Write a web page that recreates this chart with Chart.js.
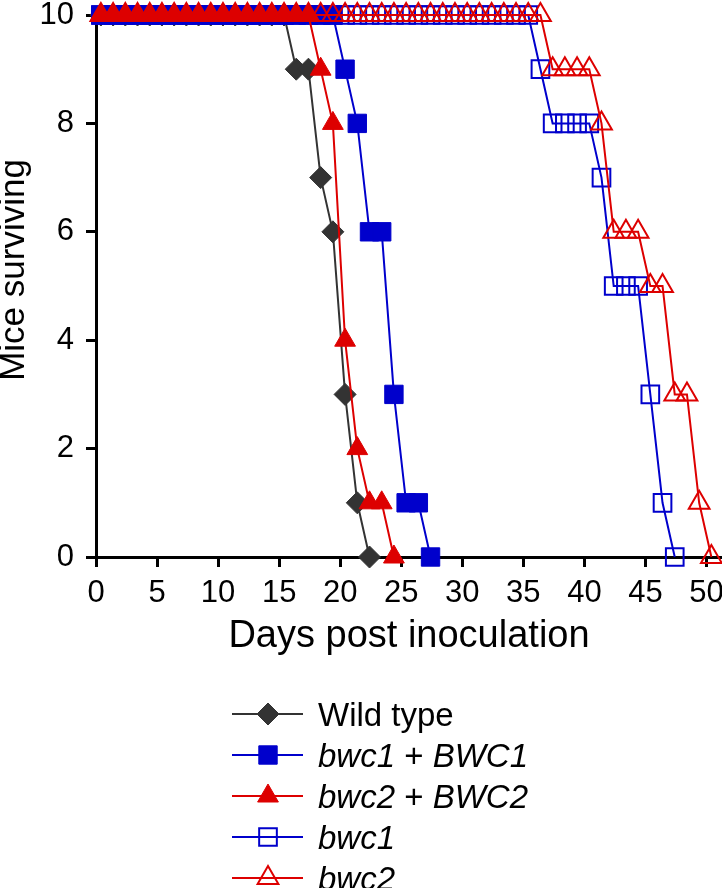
<!DOCTYPE html>
<html>
<head>
<meta charset="utf-8">
<script src="https://cdn.jsdelivr.net/npm/chart.js@4.4.1/dist/chart.umd.min.js"></script>
<style>
  html, body { margin: 0; padding: 0; background: #fff; }
  #wrap { width: 722px; height: 888px; }
</style>
</head>
<body>
<div id="wrap"><canvas id="survival" width="722" height="888"></canvas></div>
<script>
// day grid shared by every group (index i -> days[i])
const days = [0.4, 1.4, 2.4, 3.4, 4.4, 5.4, 6.4, 7.4, 8.4, 9.4,
  10.4, 11.4, 12.4, 13.4, 14.4, 15.4, 16.4, 17.4, 18.4, 19.4,
  20.4, 21.4, 22.4, 23.4, 24.4, 25.4, 26.4, 27.4, 28.4, 29.4,
  30.4, 31.4, 32.4, 33.4, 34.4, 35.4, 36.4, 37.4, 38.4, 39.4,
  40.4, 41.4, 42.4, 43.4, 44.4, 45.4, 46.4, 47.4, 48.4, 49.4, 50.4];

// mice surviving per group
const wildType = [10, 10, 10, 10, 10, 10, 10, 10, 10, 10, 10, 10, 10, 10, 10, 10,
  9, 9, 7, 6, 3, 1, 0];
const bwc1Comp = [10, 10, 10, 10, 10, 10, 10, 10, 10, 10, 10, 10, 10, 10, 10, 10, 10, 10, 10, 10,
  9, 8, 6, 6, 3, 1, 1, 0];
const bwc2Comp = [10, 10, 10, 10, 10, 10, 10, 10, 10, 10, 10, 10, 10, 10, 10, 10, 10, 10,
  9, 8, 4, 2, 1, 1, 0];
const bwc1 = [10, 10, 10, 10, 10, 10, 10, 10, 10, 10, 10, 10, 10, 10, 10, 10, 10, 10,
  10, 10, 10, 10, 10, 10, 10, 10, 10, 10, 10, 10, 10, 10, 10, 10, 10, 10,
  9, 8, 8, 8, 8, 7, 5, 5, 5, 3, 1, 0];
const bwc2 = [10, 10, 10, 10, 10, 10, 10, 10, 10, 10, 10, 10, 10, 10, 10, 10, 10, 10,
  10, 10, 10, 10, 10, 10, 10, 10, 10, 10, 10, 10, 10, 10, 10, 10, 10, 10, 10,
  9, 9, 9, 9, 8, 6, 6, 6, 5, 5, 3, 3, 1, 0];

const xTicks = [0, 5, 10, 15, 20, 25, 30, 35, 40, 45, 50];
const yTicks = [0, 2, 4, 6, 8, 10];
const yTitle = 'Mice surviving';

// legend text, [text, italic]
const legendLabels = [
  [['Wild type', false]],
  [['bwc1', true], [' + ', false], ['BWC1', true]],
  [['bwc2', true], [' + ', false], ['BWC2', true]],
  [['bwc1', true]],
  [['bwc2', true]]
];

const FONT = '"Liberation Sans", Arial, Helvetica, sans-serif';
const GREY = '#333333', BLUE = '#0000cc', RED = '#dd0000';

const toPoints = vals => vals.map((v, i) => ({ x: days[i], y: v }));

function series(label, vals, color, style, radius, open, order) {
  return {
    label: label,
    data: toPoints(vals),
    borderColor: color,
    borderWidth: 2,
    pointStyle: style,
    pointRadius: radius,
    pointHoverRadius: radius,
    pointBackgroundColor: open ? 'rgba(0,0,0,0)' : color,
    pointBorderColor: color,
    pointBorderWidth: open ? 2 : 1,
    tension: 0,
    fill: false,
    clip: false,
    order: order
  };
}

// y title sits a bit above the axis middle in the original, so draw it here
const yTitlePlugin = {
  id: 'yTitle',
  afterDraw(chart) {
    const ctx = chart.ctx;
    ctx.save();
    ctx.translate(14, 270);
    ctx.rotate(-Math.PI / 2);
    ctx.font = '35px ' + FONT;
    ctx.fillStyle = '#000';
    ctx.textAlign = 'center';
    ctx.textBaseline = 'middle';
    ctx.fillText(yTitle, 0, 0);
    ctx.restore();
  }
};

// line sample + marker + mixed italic text, stacked one per row
const legendPlugin = {
  id: 'stackedLegend',
  afterDraw(chart) {
    const ctx = chart.ctx;
    ctx.save();
    chart.data.datasets.forEach((ds, i) => {
      const y = 714 + i * 41;
      ctx.strokeStyle = ds.borderColor;
      ctx.lineWidth = 2;
      ctx.beginPath();
      ctx.moveTo(232, y);
      ctx.lineTo(303, y);
      ctx.stroke();

      ctx.fillStyle = ds.pointBackgroundColor;
      ctx.strokeStyle = ds.pointBorderColor;
      ctx.lineWidth = ds.pointBorderWidth;
      Chart.helpers.drawPoint(ctx, {
        pointStyle: ds.pointStyle,
        radius: ds.pointRadius,
        rotation: 0,
        borderWidth: ds.pointBorderWidth
      }, 268, y);

      let x = 318;
      ctx.fillStyle = '#000';
      ctx.textBaseline = 'alphabetic';
      ctx.textAlign = 'left';
      legendLabels[i].forEach(([txt, ital]) => {
        ctx.font = (ital ? 'italic ' : '') + '33px ' + FONT;
        ctx.fillText(txt, x, y + 11.5);
        x += ctx.measureText(txt).width;
      });
    });
    ctx.restore();
  }
};

new Chart(document.getElementById('survival'), {
  type: 'line',
  data: {
    datasets: [
      series('Wild type', wildType, GREY, 'rectRot', 11, false, 5),
      series('bwc1 + BWC1', bwc1Comp, BLUE, 'rect', 13, false, 4),
      series('bwc2 + BWC2', bwc2Comp, RED, 'triangle', 12, false, 2),
      series('bwc1', bwc1, BLUE, 'rect', 12.5, true, 3),
      series('bwc2', bwc2, RED, 'triangle', 12, true, 1)
    ]
  },
  options: {
    responsive: false,
    animation: false,
    devicePixelRatio: 1,
    events: [],
    layout: { autoPadding: false, padding: { left: 0, right: 0, top: 15, bottom: 229 } },
    plugins: {
      legend: { display: false },
      tooltip: { enabled: false }
    },
    scales: {
      x: {
        type: 'linear',
        min: 0,
        max: 51.27,
        afterBuildTicks: s => { s.ticks = xTicks.map(v => ({ value: v })); },
        afterFit: s => { s.height = 102; s.paddingLeft = 0; s.paddingRight = 0; },
        ticks: {
          autoSkip: false,
          maxRotation: 0,
          padding: 8,
          color: '#000',
          font: { family: FONT, size: 31 }
        },
        grid: { drawOnChartArea: false, drawTicks: true, tickLength: 10, tickWidth: 3, tickColor: '#000' },
        border: { display: true, color: '#000', width: 3 },
        title: {
          display: true,
          text: 'Days post inoculation',
          color: '#000',
          font: { family: FONT, size: 38 },
          padding: { top: 0, bottom: 0 }
        }
      },
      y: {
        type: 'linear',
        min: 0,
        max: 10,
        afterBuildTicks: s => { s.ticks = yTicks.map(v => ({ value: v })); },
        afterFit: s => { s.width = 96; s.paddingTop = 0; s.paddingBottom = 0; },
        ticks: {
          padding: 12,
          color: '#000',
          font: { family: FONT, size: 31 }
        },
        grid: { drawOnChartArea: false, drawTicks: true, tickLength: 10, tickWidth: 3, tickColor: '#000' },
        border: { display: true, color: '#000', width: 3 },
        title: { display: false }
      }
    }
  },
  plugins: [yTitlePlugin, legendPlugin]
});
</script>
</body>
</html>
